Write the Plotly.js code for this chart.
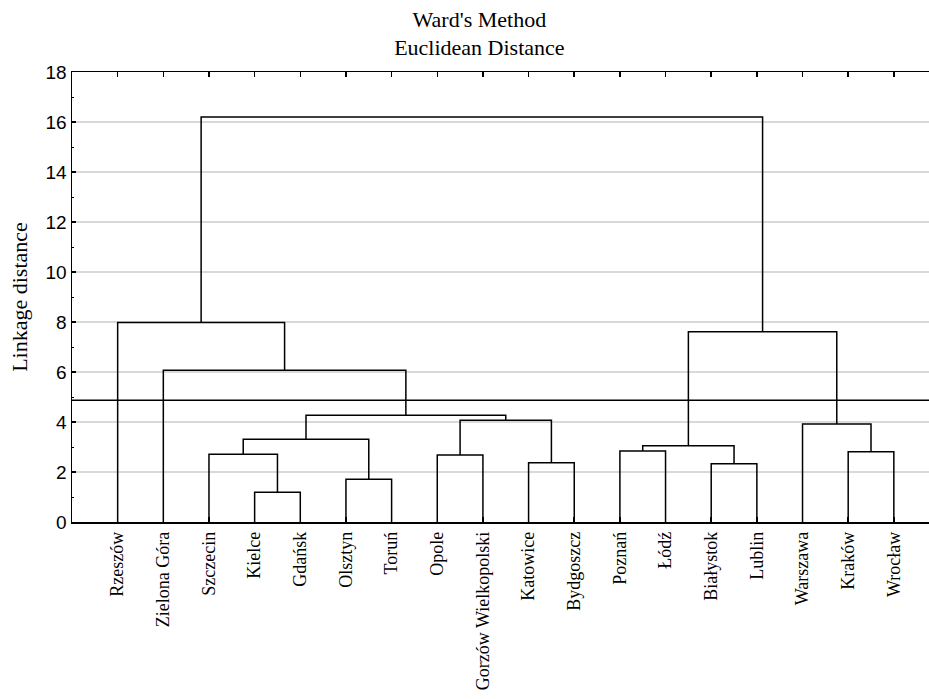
<!DOCTYPE html>
<html><head><meta charset="utf-8">
<script src="https://cdn.plot.ly/plotly-3.0.1.min.js"></script>
<style>html,body{margin:0;padding:0;background:#fff}</style>
</head><body><div id="chart" style="width:929px;height:699px"></div>
<script>
// Leaves in dendrogram order
const leafLabels = ["Rzeszów","Zielona Góra","Szczecin","Kielce","Gdańsk","Olsztyn","Toruń","Opole","Gorzów Wielkopolski","Katowice","Bydgoszcz","Poznań","Łódź","Białystok","Lublin","Warszawa","Kraków","Wrocław"];
// Merge steps: ids < 18 are leaves, id 18+k is the cluster formed at step k
const mergeLeft   = [3, 5, 13, 9, 7, 2, 16, 11, 25, 23, 15, 22, 27, 1, 26, 0, 33];
const mergeRight  = [4, 6, 14, 10, 8, 18, 17, 12, 20, 19, 24, 21, 29, 30, 28, 31, 32];
const mergeHeight = [1.19, 1.71, 2.33, 2.37, 2.68, 2.71, 2.81, 2.84, 3.05, 3.31, 3.92, 4.07, 4.27, 6.07, 7.61, 7.98, 16.2];
const cutHeight = 4.87;
const yTickVals = [0, 2, 4, 6, 8, 10, 12, 14, 16, 18];

const n = leafLabels.length;
const nodeX = [], nodeY = [];
for (let i = 0; i < n; i++) { nodeX.push(i + 1); nodeY.push(0); }
const lx = [], ly = [];
for (let k = 0; k < mergeHeight.length; k++) {
  const a = mergeLeft[k], b = mergeRight[k], h = mergeHeight[k];
  lx.push(nodeX[a], nodeX[a], nodeX[b], nodeX[b], null);
  ly.push(nodeY[a], h, h, nodeY[b], null);
  nodeX.push((nodeX[a] + nodeX[b]) / 2);
  nodeY.push(h);
}
const leafPos = leafLabels.map((_, i) => i + 1);
const xMax = 18.77;

const traces = [{
  type: 'scatter', mode: 'lines', x: lx, y: ly,
  line: {color: '#000', width: 1.5}, hoverinfo: 'skip', showlegend: false, cliponaxis: false
}];

const serif = 'Liberation Serif, Times New Roman, serif';
const layout = {
  width: 929, height: 699,
  margin: {l: 72, r: 0, t: 72, b: 177},
  paper_bgcolor: '#fff', plot_bgcolor: '#fff',
  showlegend: false,
  title: {text: "Ward's Method<br>Euclidean Distance", font: {family: serif, size: 22, color: '#000'},
          x: 0.516, xref: 'container', xanchor: 'center', y: 0.962, yref: 'container', yanchor: 'top'},
  xaxis: {
    range: [0, xMax], tickmode: 'array', tickvals: leafPos, ticktext: leafLabels,
    tickangle: -90, ticks: 'inside', ticklen: 5, tickcolor: '#000', tickwidth: 1.5,
    showline: true, linecolor: '#000', linewidth: 1.5, mirror: 'ticks',
    showgrid: false, zeroline: false, ticklabelstandoff: 1,
    tickfont: {family: serif, size: 18, color: '#000'}, fixedrange: true
  },
  yaxis: {
    range: [0, 18], tickmode: 'array', tickvals: yTickVals,
    ticks: 'inside', ticklen: 4, tickcolor: '#000', tickwidth: 1.5,
    minor: {dtick: 1, ticks: 'inside', ticklen: 2, tickcolor: '#000', tickwidth: 1, showgrid: false},
    showline: true, linecolor: '#000', linewidth: 1.5,
    showgrid: true, gridcolor: '#d9d9d9', gridwidth: 1.5, zeroline: false,
    tickfont: {family: 'Liberation Sans, Arial, sans-serif', size: 19, color: '#000'},
    title: {text: 'Linkage distance', font: {family: serif, size: 22, color: '#000'}, standoff: 12},
    fixedrange: true
  },
  shapes: [{type: 'line', xref: 'x', yref: 'y', x0: 0, x1: xMax, y0: cutHeight, y1: cutHeight,
            line: {color: '#000', width: 1.5}}]
};
Plotly.newPlot('chart', traces, layout, {displayModeBar: false, staticPlot: true});
</script></body></html>
